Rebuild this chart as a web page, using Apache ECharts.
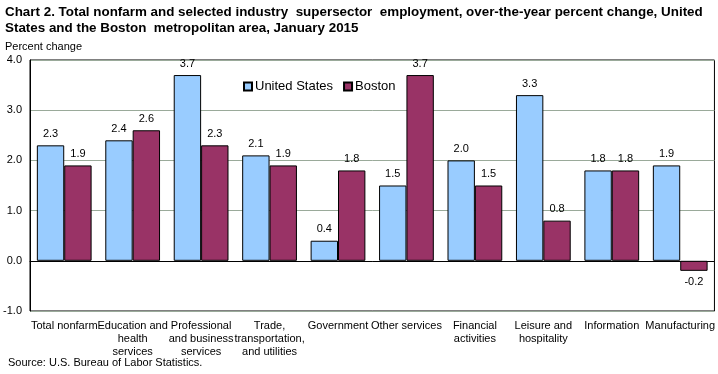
<!DOCTYPE html>
<html><head><meta charset="utf-8">
<script src="https://cdn.jsdelivr.net/npm/echarts@6/dist/echarts.min.js"></script>
<style>html,body{margin:0;padding:0;background:#fff}#c{width:718px;height:374px}</style>
</head><body><div id="c"></div>
<script>
const categories = ["Total nonfarm","Education and\nhealth\nservices","Professional\nand business\nservices","Trade,\ntransportation,\nand utilities","Government","Other services","Financial\nactivities","Leisure and\nhospitality","Information","Manufacturing"];
const unitedStates = [2.3,2.4,3.7,2.1,0.4,1.5,2.0,3.3,1.8,1.9];
const boston = [1.9,2.6,2.3,1.9,1.8,3.7,1.5,0.8,1.8,-0.2];
const yTicks = [-1,0,1,2,3,4];
const font = "'Liberation Sans', Arial, sans-serif";

function toData(arr){
  return arr.map(v => v < 0 ? {value:v, label:{position:'bottom'}} : v);
}
const chart = echarts.init(document.getElementById('c'));
chart.setOption({
  animation:false,
  textStyle:{fontFamily:font},
  title:{
    text:"Chart 2. Total nonfarm and selected industry  supersector  employment, over-the-year percent change, United\nStates and the Boston  metropolitan area, January 2015",
    left:5, top:4, padding:0,
    textStyle:{fontFamily:font, fontSize:13.4, fontWeight:'bold', color:'#000', lineHeight:16}
  },
  graphic:[
    {type:'text', left:5, top:41, style:{text:'Percent change', font:"11px "+font, fill:'#000'}},
    {type:'text', left:8, top:357, style:{text:'Source: U.S. Bureau of Labor Statistics.', font:"11px "+font, fill:'#000'}}
  ],
  legend:{
    left:238, top:75, itemWidth:8, itemHeight:8, itemGap:10,
    icon:'rect',
    textStyle:{fontFamily:font, fontSize:13, color:'#000', padding:[0,0,0,-2]},
    data:['United States','Boston']
  },
  grid:{left:30, right:2, top:60, bottom:63, show:true, borderColor:'#000', borderWidth:1},
  xAxis:{
    type:'category', data:categories,
    axisLine:{onZero:true, lineStyle:{color:'#000'}},
    axisTick:{show:false},
    axisLabel:{fontFamily:font, fontSize:11, color:'#000', interval:0, lineHeight:13, margin:8},
    position:'bottom'
  },
  yAxis:{
    type:'value', min:-1, max:4, interval:1,
    axisLine:{show:true, lineStyle:{color:'#000'}},
    axisTick:{show:false},
    axisLabel:{fontFamily:font, fontSize:11, color:'#000', formatter:v=>v.toFixed(1), margin:8},
    splitLine:{lineStyle:{color:'#9AAA9A'}}
  },
  series:[
    {name:'United States', type:'bar', data:toData(unitedStates), barGap:'0%', barCategoryGap:'20%',
     itemStyle:{color:'#99CCFF', borderColor:'#000', borderWidth:1},
     label:{show:true, position:'top', distance:6, fontFamily:font, fontSize:11, color:'#000', formatter:p=>p.value.toFixed(1)}},
    {name:'Boston', type:'bar', data:toData(boston),
     itemStyle:{color:'#993366', borderColor:'#000', borderWidth:1},
     label:{show:true, position:'top', distance:6, fontFamily:font, fontSize:11, color:'#000', formatter:p=>p.value.toFixed(1)}}
  ]
});
</script></body></html>
